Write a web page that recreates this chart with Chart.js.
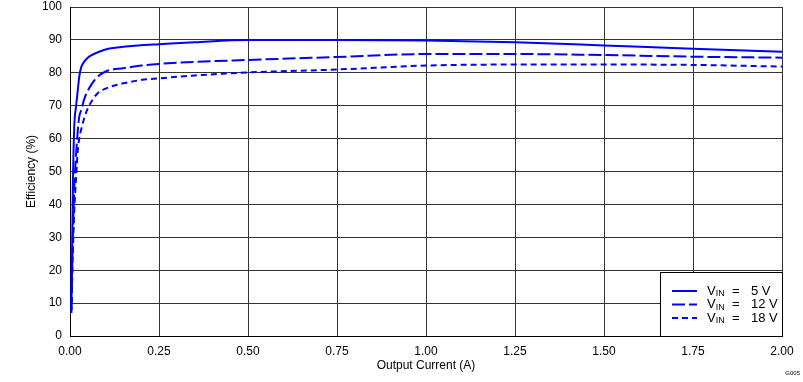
<!DOCTYPE html>
<html><head><meta charset="utf-8">
<script src="https://cdn.jsdelivr.net/npm/chart.js@4"></script>
<style>html,body{margin:0;padding:0;background:#fff}#wrap{width:803px;height:382px;position:relative}</style>
</head><body><div id="wrap"><canvas id="c" width="803" height="382"></canvas></div>
<script>
const currentA = [0.004, 0.008, 0.012, 0.017, 0.022, 0.026, 0.031, 0.04, 0.05, 0.06, 0.075, 0.1, 0.15, 0.2, 0.25, 0.35, 0.5, 0.75, 1.0, 1.25, 1.5, 1.75, 2.0];
const eff5V  = [8, 45, 63.6, 69.7, 74.8, 78.8, 81.5, 83.4, 84.6, 85.3, 86.1, 87.1, 87.9, 88.4, 88.7, 89.3, 90.0, 90.0, 89.8, 89.3, 88.3, 87.3, 86.4];
const eff12V = [8, 30, 45, 55, 62.6, 66.7, 68.5, 72, 74.5, 76.4, 78.5, 80.4, 81.4, 82.2, 82.7, 83.3, 83.9, 84.8, 85.7, 85.7, 85.4, 84.9, 84.6];
const eff18V = [7, 25, 38, 48, 56.5, 60, 62.6, 66.2, 69.2, 71.2, 73.5, 75.2, 76.8, 77.8, 78.3, 79.2, 80.1, 81.0, 82.2, 82.5, 82.5, 82.4, 81.9];
const seriesLabels = ['5 V', '12 V', '18 V'];
const xTicks = [0, 0.25, 0.5, 0.75, 1.0, 1.25, 1.5, 1.75, 2.0];
const yTicks = [0, 10, 20, 30, 40, 50, 60, 70, 80, 90, 100];

const pts = (ys) => currentA.map((x, i) => ({x, y: ys[i]}));
const BLUE = '#0000ff';
const FONT = '"Liberation Sans", Arial, sans-serif';

const legendPlugin = {
  id: 'customLegend',
  afterDraw(chart) {
    const ctx = chart.ctx, a = chart.chartArea;
    const bx = a.right - 122, by = a.bottom - 64, bw = 122, bh = 64;
    ctx.save();
    ctx.fillStyle = '#fff';
    ctx.fillRect(bx, by, bw, bh);
    ctx.strokeStyle = '#000'; ctx.lineWidth = 1;
    ctx.strokeRect(bx + 0.5, by + 0.5, bw, bh);
    chart.data.datasets.forEach((ds, i) => {
      const y = by + 19 + i * 13.5;
      ctx.strokeStyle = ds.borderColor; ctx.lineWidth = 2;
      ctx.setLineDash(ds.borderDash || []);
      ctx.beginPath(); ctx.moveTo(bx + 12, y); ctx.lineTo(bx + 37, y); ctx.stroke();
      ctx.setLineDash([]);
      ctx.fillStyle = '#000'; ctx.textBaseline = 'middle'; ctx.textAlign = 'left';
      ctx.font = '13px ' + FONT;
      let tx = bx + 47;
      ctx.fillText('V', tx, y); tx += ctx.measureText('V').width;
      ctx.font = '9px ' + FONT;
      ctx.fillText('IN', tx, y + 3);
      ctx.font = '13px ' + FONT;
      ctx.fillText('=', bx + 72, y);
      ctx.fillText(seriesLabels[i], bx + 91, y);
    });
    ctx.font = '6px ' + FONT; ctx.fillStyle = '#000'; ctx.textAlign = 'right';
    ctx.fillText('G005', 800, 373);
    ctx.restore();
  }
};

new Chart(document.getElementById('c'), {
  type: 'line',
  data: {
    datasets: [
      {label: 'VIN = 5 V', data: pts(eff5V), borderColor: BLUE, borderWidth: 2, pointRadius: 0, cubicInterpolationMode: 'monotone'},
      {label: 'VIN = 12 V', data: pts(eff12V), borderColor: BLUE, borderWidth: 2, borderDash: [13, 4], pointRadius: 0, cubicInterpolationMode: 'monotone'},
      {label: 'VIN = 18 V', data: pts(eff18V), borderColor: BLUE, borderWidth: 2, borderDash: [6, 4], pointRadius: 0, cubicInterpolationMode: 'monotone'}
    ]
  },
  options: {
    responsive: false, animation: false, devicePixelRatio: 1,
    layout: {padding: {left: 0, right: 21, top: 7, bottom: 0}},
    plugins: {legend: {display: false}, tooltip: {enabled: false}},
    scales: {
      x: {
        type: 'linear', min: 0, max: 2,
        afterBuildTicks: (s) => { s.ticks = xTicks.map(v => ({value: v})); },
        afterFit: (s) => { s.height = 46; s.paddingLeft = 0; s.paddingRight = 0; },
        grid: {color: '#333', lineWidth: 1, drawTicks: false},
        border: {color: '#000', width: 1},
        ticks: {padding: 8, color: '#000', font: {family: FONT, size: 12}, maxRotation: 0, callback: v => v.toFixed(2)},
        title: {display: true, text: 'Output Current (A)', color: '#000', font: {family: FONT, size: 12}, padding: {top: 0, bottom: 9}}
      },
      y: {
        min: 0, max: 100,
        afterBuildTicks: (s) => { s.ticks = yTicks.map(v => ({value: v})); },
        afterFit: (s) => { s.width = 70; s.paddingTop = 0; s.paddingBottom = 0; },
        grid: {color: '#333', lineWidth: 1, drawTicks: false},
        border: {color: '#000', width: 1},
        ticks: {padding: 8, color: '#000', font: {family: FONT, size: 12}},
        title: {display: true, text: 'Efficiency (%)', color: '#000', font: {family: FONT, size: 12}, padding: {top: 24, bottom: 0}}
      }
    }
  },
  plugins: [legendPlugin]
});
</script></body></html>
